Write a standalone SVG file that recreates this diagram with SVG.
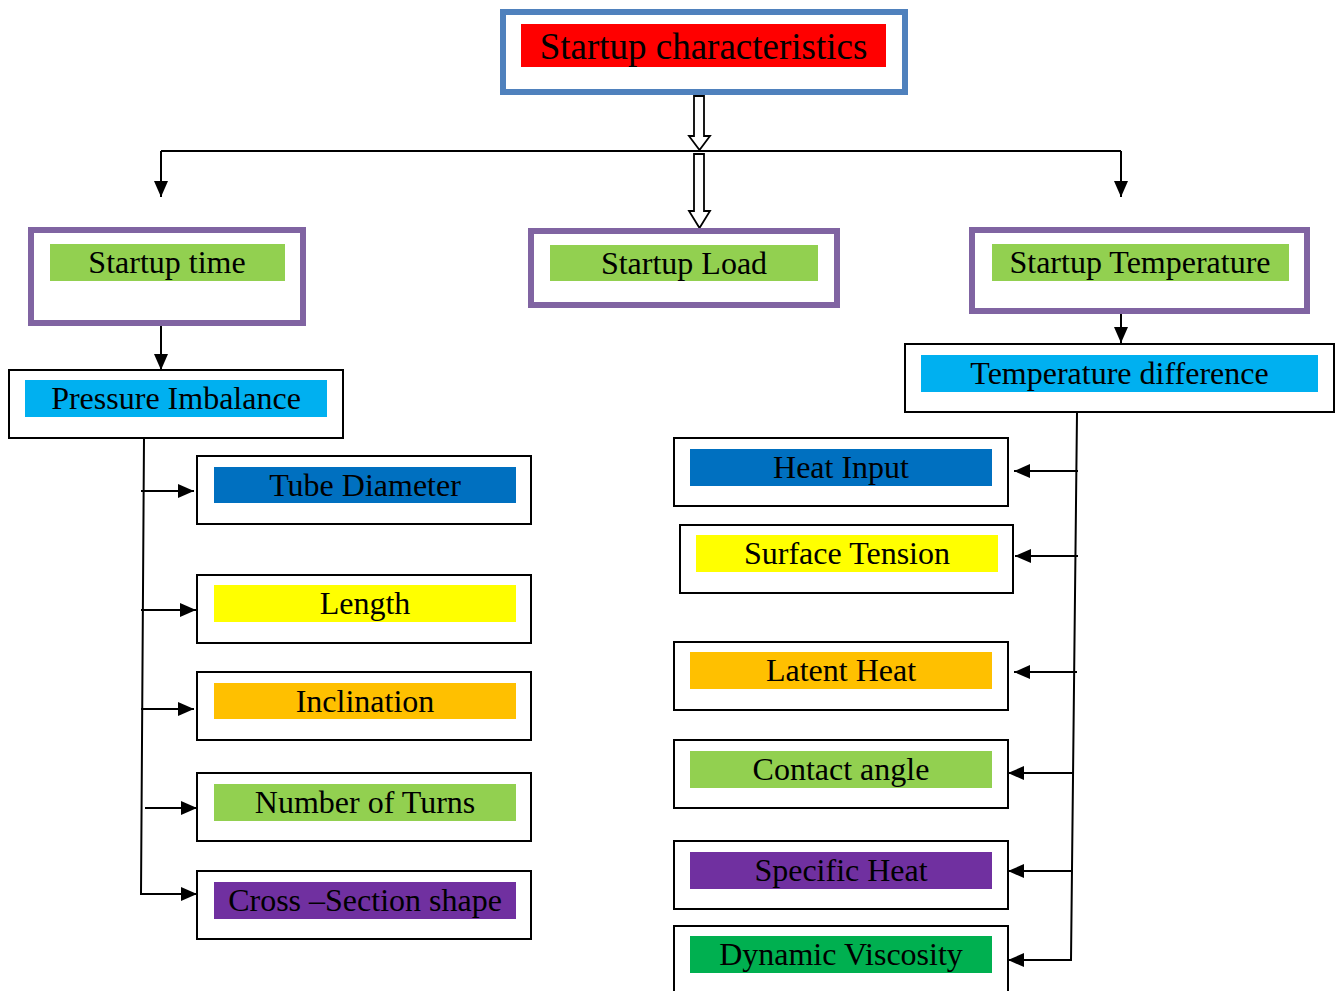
<svg xmlns="http://www.w3.org/2000/svg" width="1338" height="991" viewBox="0 0 1338 991">
<style>
.t{font-family:"Liberation Serif","Times New Roman",serif;font-size:32px;fill:#000;text-anchor:middle}
.bx{fill:#fff;stroke:#000;stroke-width:2}
.pb{fill:#fff;stroke:#8064A2;stroke-width:6}
.ln{fill:none;stroke:#000;stroke-width:2}
.ba{fill:#fff;stroke:#000;stroke-width:1.8}
</style>
<defs>
<marker id="ah" viewBox="0 0 16 14" refX="16" refY="7" markerWidth="16" markerHeight="14" markerUnits="userSpaceOnUse" orient="auto">
<path d="M0,0 L16,7 L0,14 z" fill="#000"/>
</marker>
</defs>
<rect width="1338" height="991" fill="#fff"/>

<g id="connectors">
<path class="ba" d="M694,96 L704,96 L704,136 L710,136 L699.5,150 L689,136 L694,136 z"/>
<path class="ba" d="M694,154 L704,154 L704,211 L710,211 L699.5,228 L689,211 L694,211 z"/>
<path class="ln" d="M161,151 L1121,151"/>
<path class="ln" d="M161,151 L161,197" marker-end="url(#ah)"/>
<path class="ln" d="M1121,151 L1121,197" marker-end="url(#ah)"/>
<path class="ln" d="M161,326 L161,370" marker-end="url(#ah)"/>
<path class="ln" d="M144,438 L141,894 L197,894" marker-end="url(#ah)"/>
<path class="ln" d="M141,491 L194,491" marker-end="url(#ah)"/>
<path class="ln" d="M141,610 L196,610" marker-end="url(#ah)"/>
<path class="ln" d="M141,709 L194,709" marker-end="url(#ah)"/>
<path class="ln" d="M145,808 L197,808" marker-end="url(#ah)"/>
<path class="ln" d="M1121,314 L1121,343" marker-end="url(#ah)"/>
<path class="ln" d="M1077,413 L1071,960 L1008,960" marker-end="url(#ah)"/>
<path class="ln" d="M1078,471 L1014,471" marker-end="url(#ah)"/>
<path class="ln" d="M1078,556 L1015,556" marker-end="url(#ah)"/>
<path class="ln" d="M1077,672 L1014,672" marker-end="url(#ah)"/>
<path class="ln" d="M1073,773 L1008,773" marker-end="url(#ah)"/>
<path class="ln" d="M1072,871 L1008,871" marker-end="url(#ah)"/>
</g>

<g id="startup-characteristics">
<rect x="503" y="12" width="402" height="80" fill="#fff" stroke="#4F81BD" stroke-width="6"/>
<rect x="521" y="24" width="365" height="43" fill="#FF0000"/>
<text class="t" x="703.5" y="59" style="font-size:37px">Startup characteristics</text>
</g>

<g id="startup-time">
<rect class="pb" x="31" y="230" width="272" height="93"/>
<rect x="50" y="244" width="235" height="37" fill="#92D050"/>
<text class="t" x="167" y="273">Startup time</text>
</g>

<g id="startup-load">
<rect class="pb" x="531" y="231" width="306" height="74"/>
<rect x="550" y="245" width="268" height="36" fill="#92D050"/>
<text class="t" x="684" y="274">Startup Load</text>
</g>

<g id="startup-temperature">
<rect class="pb" x="972" y="230" width="335" height="81"/>
<rect x="992" y="244" width="297" height="37" fill="#92D050"/>
<text class="t" x="1140" y="273">Startup Temperature</text>
</g>

<g id="pressure-imbalance">
<rect class="bx" x="9" y="370" width="334" height="68"/>
<rect x="25" y="380" width="302" height="37" fill="#00B0F0"/>
<text class="t" x="176" y="409">Pressure Imbalance</text>
</g>

<g id="temperature-difference">
<rect class="bx" x="905" y="344" width="429" height="68"/>
<rect x="921" y="355" width="397" height="37" fill="#00B0F0"/>
<text class="t" x="1119.5" y="384">Temperature difference</text>
</g>

<g id="tube-diameter">
<rect class="bx" x="197" y="456" width="334" height="68"/>
<rect x="214" y="467" width="302" height="36" fill="#0070C0"/>
<text class="t" x="365" y="496">Tube Diameter</text>
</g>

<g id="length">
<rect class="bx" x="197" y="575" width="334" height="68"/>
<rect x="214" y="585" width="302" height="37" fill="#FFFF00"/>
<text class="t" x="365" y="614">Length</text>
</g>

<g id="inclination">
<rect class="bx" x="197" y="672" width="334" height="68"/>
<rect x="214" y="683" width="302" height="36" fill="#FFC000"/>
<text class="t" x="365" y="712">Inclination</text>
</g>

<g id="number-of-turns">
<rect class="bx" x="197" y="773" width="334" height="68"/>
<rect x="214" y="784" width="302" height="37" fill="#92D050"/>
<text class="t" x="365" y="813">Number of Turns</text>
</g>

<g id="cross-section-shape">
<rect class="bx" x="197" y="871" width="334" height="68"/>
<rect x="214" y="882" width="302" height="37" fill="#7030A0"/>
<text class="t" x="365" y="911">Cross –Section shape</text>
</g>

<g id="heat-input">
<rect class="bx" x="674" y="438" width="334" height="68"/>
<rect x="690" y="449" width="302" height="37" fill="#0070C0"/>
<text class="t" x="841" y="478">Heat Input</text>
</g>

<g id="surface-tension">
<rect class="bx" x="680" y="525" width="333" height="68"/>
<rect x="696" y="535" width="302" height="37" fill="#FFFF00"/>
<text class="t" x="847" y="564">Surface Tension</text>
</g>

<g id="latent-heat">
<rect class="bx" x="674" y="642" width="334" height="68"/>
<rect x="690" y="652" width="302" height="37" fill="#FFC000"/>
<text class="t" x="841" y="681">Latent Heat</text>
</g>

<g id="contact-angle">
<rect class="bx" x="674" y="740" width="334" height="68"/>
<rect x="690" y="751" width="302" height="37" fill="#92D050"/>
<text class="t" x="841" y="780">Contact angle</text>
</g>

<g id="specific-heat">
<rect class="bx" x="674" y="841" width="334" height="68"/>
<rect x="690" y="852" width="302" height="37" fill="#7030A0"/>
<text class="t" x="841" y="881">Specific Heat</text>
</g>

<g id="dynamic-viscosity">
<rect class="bx" x="674" y="926" width="334" height="80"/>
<rect x="690" y="936" width="302" height="37" fill="#00B050"/>
<text class="t" x="841" y="965">Dynamic Viscosity</text>
</g>
</svg>
